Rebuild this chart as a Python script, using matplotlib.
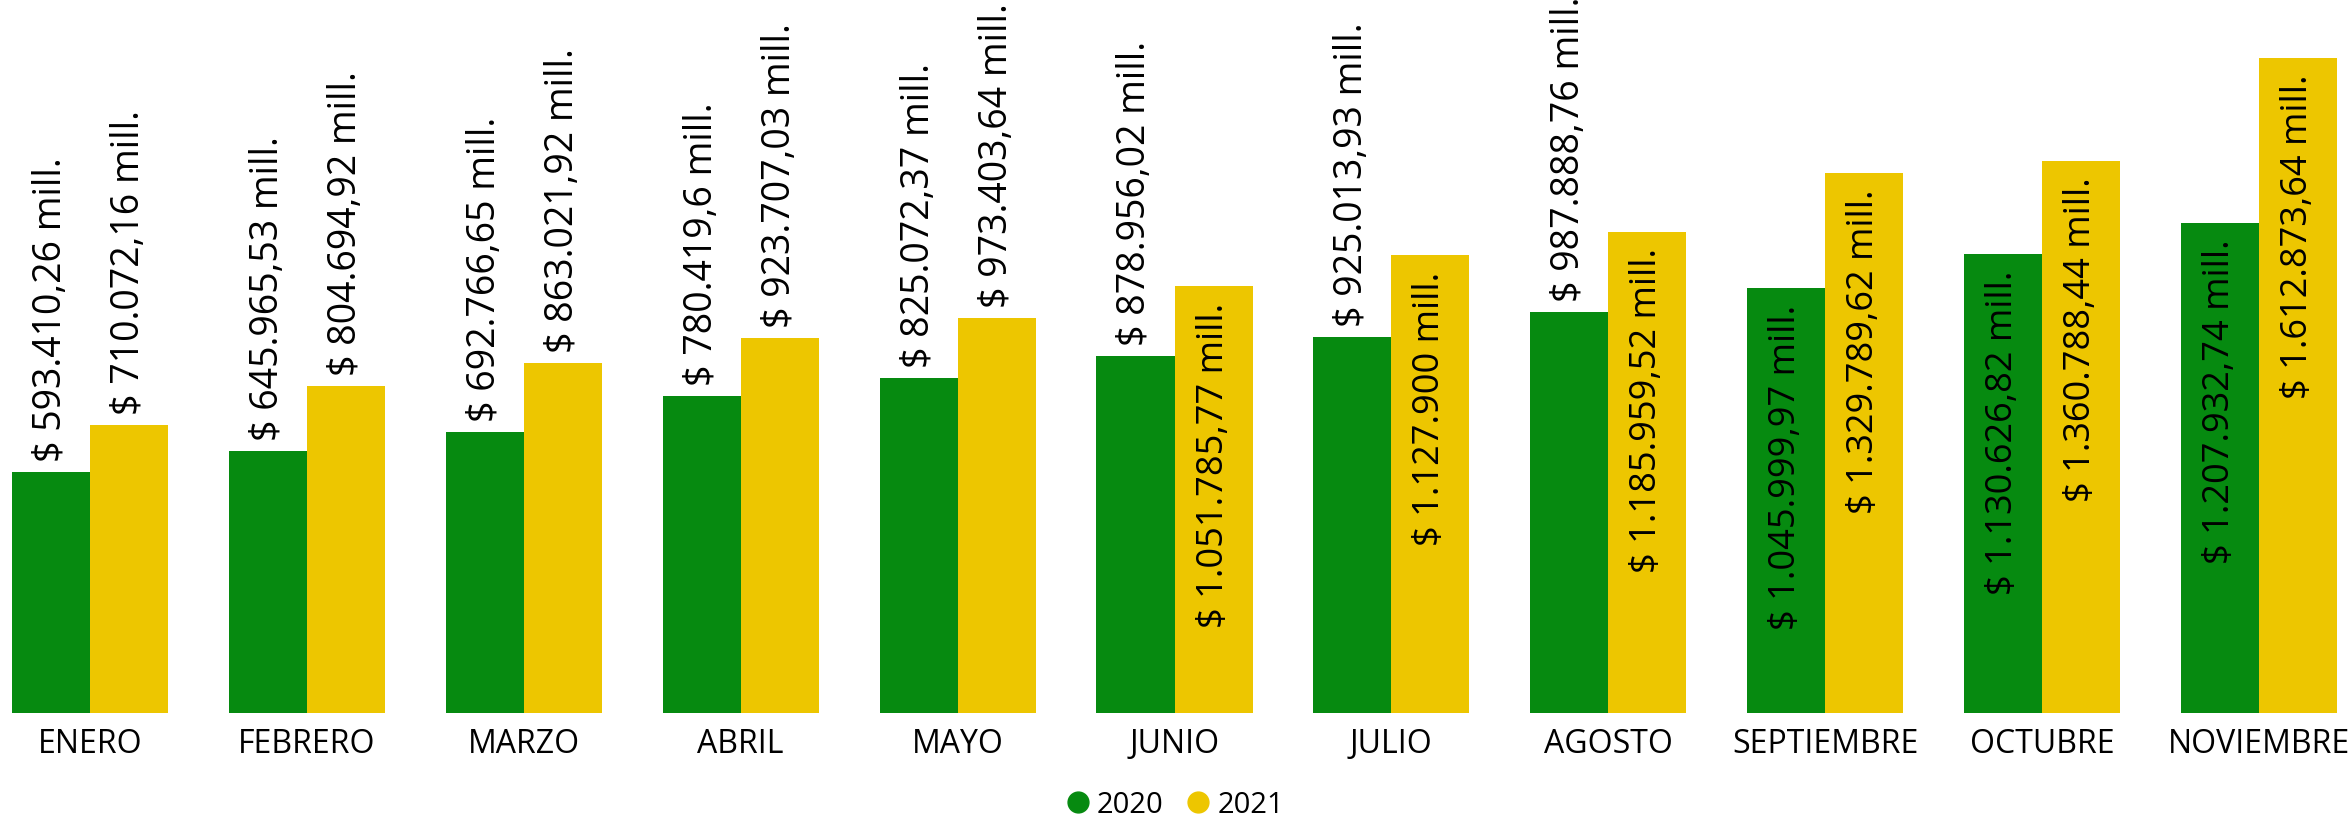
"""Monthly totals 2020 vs 2021, grouped bars with rotated value labels."""

import matplotlib

matplotlib.use("Agg")
import matplotlib.pyplot as plt
import numpy as np


months = ["ENERO", "FEBRERO", "MARZO", "ABRIL", "MAYO", "JUNIO", "JULIO",
          "AGOSTO", "SEPTIEMBRE", "OCTUBRE", "NOVIEMBRE"]
values_2020 = [593410.26, 645965.53, 692766.65, 780419.6, 825072.37, 878956.02,
               925013.93, 987888.76, 1045999.97, 1130626.82, 1207932.74]
values_2021 = [710072.16, 804694.92, 863021.92, 923707.03, 973403.64, 1051785.77,
               1127900.0, 1185959.52, 1329789.62, 1360788.44, 1612873.64]
series_names = ["2020", "2021"]

GREEN = "#068A10"
YELLOW = "#EDC600"
FONT = ["Open Sans", "DejaVu Sans"]
NARROW = ["Liberation Sans Narrow", "Open Sans", "DejaVu Sans"]


def money(value):
    """Spanish style: '.' thousands, ',' decimals, trailing zeros dropped."""
    text = f"{value:,.2f}".rstrip("0").rstrip(".")
    text = text.replace(",", "_").replace(".", ",").replace("_", ".")
    return f"$ {text} mill."


plt.rcParams["font.family"] = FONT

fig = plt.figure(figsize=(23.5, 8.2), dpi=100)
ax = fig.add_axes([0, 1 - 714 / 820, 1, 714 / 820])

x = np.arange(len(months))
width = 0.36
ymax = 714 / 0.000406
pad = ymax * 0.022

for offset, vals, color in [(-width / 2, values_2020, GREEN), (width / 2, values_2021, YELLOW)]:
    ax.bar(x + offset, vals, width, color=color)
    for xi, v in zip(x + offset, vals):
        if v > 1.0e6:
            ax.text(xi, v - pad, money(v), rotation=90, ha="center", va="top",
                    fontsize=26, family=NARROW)
        else:
            ax.text(xi, v + pad * 0.7, money(v), rotation=90, ha="center", va="bottom",
                    fontsize=27)

ax.set_xlim(-90 / 216.9, (2350 - 90) / 216.9)
ax.set_ylim(0, ymax)
ax.set_xticks(x)
ax.set_xticklabels(months, fontsize=23)
ax.tick_params(axis="x", length=0, pad=10)
ax.set_yticks([])
for spine in ax.spines.values():
    spine.set_visible(False)

handles = [plt.Line2D([], [], marker="o", linestyle="", markersize=15, color=c)
           for c in (GREEN, YELLOW)]
fig.legend(handles, series_names, loc="center", bbox_to_anchor=(0.5, 0.018), ncol=2,
           frameon=False, fontsize=21, handletextpad=0.25, columnspacing=0.8,
           handlelength=0.8)

fig.savefig("out.png", dpi=100)
